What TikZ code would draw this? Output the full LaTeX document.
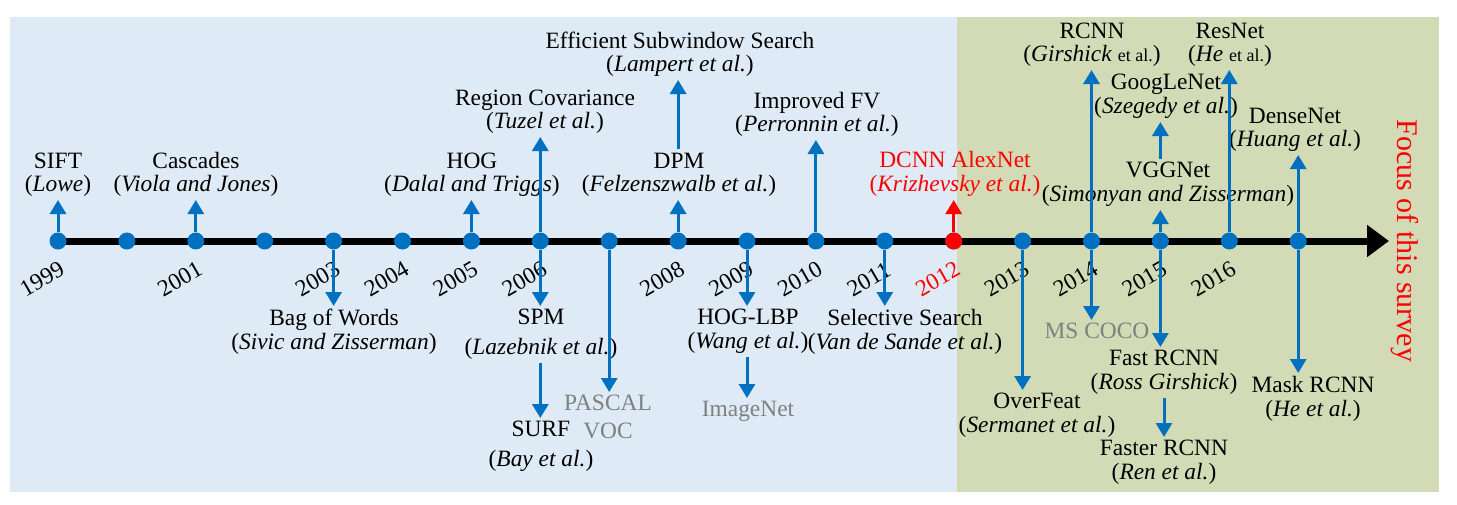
\documentclass[tikz,border=0pt]{standalone}
\usepackage{fontspec}
\setmainfont{Liberation Serif}
\usetikzlibrary{arrows.meta,calc}
\definecolor{tlblue}{RGB}{0,112,192}
\definecolor{tlgray}{RGB}{128,128,128}
\definecolor{bgblue}{RGB}{222,234,245}
\definecolor{bggreen}{RGB}{211,219,182}

\begin{document}
\begin{tikzpicture}
  [x=0.5pt,y=-0.5pt,
   every node/.style={font=\rmfamily\fontsize{11.7}{11.8}\selectfont,align=center,inner sep=1.5pt},
   yeardot/.style={circle,fill=tlblue,minimum size=8.5pt,inner sep=0pt},
   yearlabel/.style={rotate=30,inner sep=0pt},
   upev/.style={anchor=south},
   downev/.style={anchor=north},
   evarrow/.style={draw=tlblue,line width=1.5pt,-{Triangle[width=8pt,length=7pt]}},
   dataset/.style={text=tlgray}]

  \useasboundingbox (0,0) rectangle (1457,504);
  \fill[bgblue] (10,17) rectangle (957,492);
  \fill[bggreen] (957,17) rectangle (1439,492);

  % time axis
  \coordinate (start) at (58,241);
  \coordinate (tip) at (1389,241);
  \draw[line width=3.5pt,-{Triangle[width=15.5pt,length=11pt]}] (start) -- (tip);

  \foreach \yr [count=\i from 0] in {1999,...,2017}
    \node[yeardot] (d\yr) at ({58+68.9*\i},241) {};
  \node[yeardot,fill=red] (d2012) at (d2012) {};

  \foreach \yr in {1999,2001,2003,2004,2005,2006,2008,2009,2010,2011,2013,2014,2015,2016}
    \node[yearlabel] at ($(d\yr)+(-16,38)$) {\yr};
  \node[yearlabel,text=red] at ($(d2012)+(-16,38)$) {2012};

  % above the axis
  \node[upev] (sift) at (58,200) {SIFT\\(\textit{Lowe})};
  \node[upev] (cascades) at (196,200) {Cascades\\(\textit{Viola and Jones})};
  \node[upev] (hog) at (472,200) {HOG\\(\textit{Dalal and Triggs})};
  \node[upev] (regcov) at (545,137) {Region Covariance\\(\textit{Tuzel et al.})};
  \node[upev] (dpm) at (679,200) {DPM\\(\textit{Felzenszwalb et al.})};
  \node[upev] (ess) at (680,80) {Efficient Subwindow Search\\(\textit{Lampert et al.})};
  \node[upev] (ifv) at (817,140) {Improved FV\\(\textit{Perronnin et al.})};
  \node[upev,text=red] (alexnet) at (955,200) {DCNN AlexNet\\(\textit{Krizhevsky et al.})};
  \node[upev] (rcnn) at (1092,70) {RCNN\\(\textit{Girshick} {\small et al.})};
  \node[upev] (vggnet) at (1168,210) {VGGNet\\(\textit{Simonyan and Zisserman})};
  \node[upev] (googlenet) at (1166,122) {GoogLeNet\\(\textit{Szegedy et al.})};
  \node[upev] (resnet) at (1230,70) {ResNet\\(\textit{He} {\small et al.})};
  \node[upev] (densenet) at (1295,155) {DenseNet\\(\textit{Huang et al.})};

  \draw[evarrow] (d1999) -- (d1999 |- sift.south);
  \draw[evarrow] (d2001) -- (d2001 |- cascades.south);
  \draw[evarrow] (d2005) -- (d2005 |- hog.south);
  \draw[evarrow] (d2006) -- (d2006 |- regcov.south);
  \draw[evarrow] (d2008) -- (d2008 |- dpm.south);
  \draw[evarrow] (d2008 |- dpm.north) -- (d2008 |- ess.south);
  \draw[evarrow] (d2010) -- (d2010 |- ifv.south);
  \draw[evarrow,draw=red] (d2012) -- (d2012 |- alexnet.south);
  \draw[evarrow] (d2014) -- (d2014 |- rcnn.south);
  \draw[evarrow] (d2015) -- (d2015 |- vggnet.south);
  \draw[evarrow] (d2015 |- vggnet.north) -- (d2015 |- googlenet.south);
  \draw[evarrow] (d2016) -- (d2016 |- resnet.south);
  \draw[evarrow] (d2017) -- (d2017 |- densenet.south);

  % below the axis
  \node[downev] (bow) at (334,306) {Bag of Words\\(\textit{Sivic and Zisserman})};
  \node[downev] (spm) at (541,306) {SPM\\[3pt](\textit{Lazebnik et al.})};
  \node[downev] (surf) at (541,418) {SURF\\[3pt](\textit{Bay et al.})};
  \node[downev,dataset] (pascal) at (608,392) {PASCAL\\[2pt]VOC};
  \node[downev] (hoglbp) at (748,306) {HOG-LBP\\(\textit{Wang et al.})};
  \node[downev,dataset] (imagenet) at (748,398) {ImageNet};
  \node[downev] (selsearch) at (905,306) {Selective Search\\(\textit{Van de Sande et al.})};
  \node[downev] (overfeat) at (1037,390) {OverFeat\\(\textit{Sermanet et al.})};
  \node[downev,dataset] (mscoco) at (1097,320) {MS COCO};
  \node[downev] (fastrcnn) at (1164,347) {Fast RCNN\\(\textit{Ross Girshick})};
  \node[downev] (fasterrcnn) at (1164,437) {Faster RCNN\\(\textit{Ren et al.})};
  \node[downev] (maskrcnn) at (1313,373) {Mask RCNN\\(\textit{He et al.})};

  \draw[evarrow] (d2003) -- (d2003 |- bow.north);
  \draw[evarrow] (d2006) -- (d2006 |- spm.north);
  \draw[evarrow] (d2006 |- spm.south) -- (d2006 |- surf.north);
  \draw[evarrow] (d2007) -- (d2007 |- pascal.north);
  \draw[evarrow] (d2009) -- (d2009 |- hoglbp.north);
  \draw[evarrow] (d2009 |- hoglbp.south) -- (d2009 |- imagenet.north);
  \draw[evarrow] (d2011) -- (d2011 |- selsearch.north);
  \draw[evarrow] (d2013) -- (d2013 |- overfeat.north);
  \draw[evarrow] (d2014) -- (d2014 |- mscoco.north);
  \draw[evarrow] (d2015) -- (d2015 |- fastrcnn.north);
  \draw[evarrow] (fastrcnn.south) -- (fasterrcnn.north);
  \draw[evarrow] (d2017) -- (d2017 |- maskrcnn.north);

  \node[rotate=-90,text=red,font=\rmfamily\fontsize{15}{16}\selectfont] (focus) at (1405,241) {Focus of this survey};
\end{tikzpicture}
\end{document}
